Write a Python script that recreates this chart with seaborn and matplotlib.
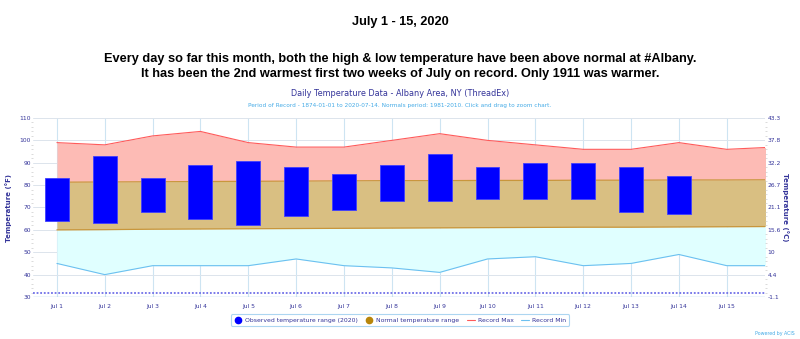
import numpy as np
import pandas as pd
import matplotlib
matplotlib.use("Agg")
import matplotlib.pyplot as plt
from matplotlib import font_manager
from matplotlib.lines import Line2D
import seaborn as sns

# ---- data ----
days = list(range(1, 17))
day_labels = [f"Jul {d}" for d in range(1, 16)]
obs_high = [83, 93, 83, 89, 91, 88, 85, 89, 94, 88, 90, 90, 88, 84]
obs_low = [64, 63, 68, 65, 62, 66, 69, 73, 73, 74, 74, 74, 68, 67]
normal_high = [81.3, 81.4, 81.5, 81.6, 81.7, 81.8, 81.9, 82.0, 82.0, 82.1, 82.1, 82.2, 82.2, 82.3, 82.3, 82.4]
normal_low = [60.0, 60.1, 60.3, 60.4, 60.5, 60.6, 60.7, 60.8, 60.9, 61.0, 61.1, 61.2, 61.2, 61.3, 61.4, 61.5]
record_max = [99, 98, 102, 104, 99, 97, 97, 100, 103, 100, 98, 96, 96, 99, 96, 97]
record_min = [45, 40, 44, 44, 44, 47, 44, 43, 41, 47, 48, 44, 45, 49, 44, 44]
f_ticks = [30, 40, 50, 60, 70, 80, 90, 100, 110]
c_labels = ["-1.1", "4.4", "10", "15.6", "21.1", "26.7", "32.2", "37.8", "43.3"]

title = "July 1 - 15, 2020"
subtitle = ("Every day so far this month, both the high & low temperature have been above normal at #Albany.\n"
            "It has been the 2nd warmest first two weeks of July on record. Only 1911 was warmer.")
chart_title = "Daily Temperature Data - Albany Area, NY (ThreadEx)"
chart_sub = ("Period of Record - 1874-01-01 to 2020-07-14. Normals period: 1981-2010. "
             "Click and drag to zoom chart.")

sns.set_style("white")
names = {f.name for f in font_manager.fontManager.ttflist}
narrow = "Liberation Sans Narrow" if "Liberation Sans Narrow" in names else "Liberation Sans"
plt.rcParams["font.family"] = ["DejaVu Sans"]

df = pd.DataFrame({"day": days, "nh": normal_high, "nl": normal_low,
                   "rmax": record_max, "rmin": record_min})
obs = pd.DataFrame({"day": days[:len(obs_high)], "hi": obs_high, "lo": obs_low})

fig = plt.figure(figsize=(8.0, 3.39), dpi=100)
ax = fig.add_axes([33 / 800, 1 - 297 / 339, 732 / 800, 179 / 339])

TXT = "#333399"
# fills
ax.fill_between(df.day, df.nh, df.rmax, color="#FDBBB5", lw=0, zorder=1)
ax.fill_between(df.day, df.nl, df.nh, color="#D9BF82", lw=0, zorder=1)
ax.fill_between(df.day, df.rmin, df.nl, color="#E0FFFF", lw=0, zorder=1)
sns.lineplot(data=df, x="day", y="nh", ax=ax, color="#C8963C", lw=0.9, zorder=2)
sns.lineplot(data=df, x="day", y="nl", ax=ax, color="#C8963C", lw=0.9, zorder=2)
sns.lineplot(data=df, x="day", y="rmax", ax=ax, color="#FF5A5A", lw=0.8, zorder=3)
sns.lineplot(data=df, x="day", y="rmin", ax=ax, color="#6CC0F0", lw=0.8, zorder=3)

# observed bars
ax.bar(obs.day, obs.hi - obs.lo, bottom=obs.lo, width=0.5, color="#0000FF",
       edgecolor="#3F3FFF", lw=0.6, zorder=4)

# freezing line
ax.axhline(32, color="#6F6FE8", lw=1.3, ls=(0, (1, 1)), zorder=3)
ax.axhline(30, color="#A6CFEA", lw=1.0, zorder=3)

ax.set_xlim(0.5, 15.8)
ax.set_ylim(30, 110)
ax.set_xticks(range(1, 16))
ax.set_xticklabels(day_labels)
ax.set_yticks(f_ticks)
ax.set_yticks(np.arange(30, 111, 2), minor=True)
ax.grid(axis="y", color="#DCE4EC", lw=0.7, zorder=0)
for d in range(1, 16):
    ax.axvline(d, color="#CDE4F2", lw=0.8, zorder=0.5)
for s in ax.spines.values():
    s.set_visible(False)
ax.tick_params(axis="x", length=0, labelsize=4.3, labelcolor=TXT, pad=5)
ax.tick_params(axis="y", which="major", length=0, labelsize=4.3, labelcolor=TXT, pad=1.5)
ax.tick_params(axis="y", which="minor", length=1.5, color="#CCCCCC", width=0.5)
ax.set_xlabel("")
ax.set_ylabel("Temperature (°F)", fontsize=5.0, color=TXT, fontweight="bold")
ax.yaxis.set_label_coords((12 - 33) / 732, 0.5)

ax2 = ax.twinx()
ax2.set_ylim(30, 110)
ax2.set_yticks(f_ticks)
ax2.set_yticklabels(c_labels)
ax2.set_yticks(np.arange(30, 111, 2), minor=True)
for s in ax2.spines.values():
    s.set_visible(False)
ax2.tick_params(axis="y", which="major", length=0, labelsize=4.3, labelcolor=TXT, pad=2)
ax2.tick_params(axis="y", which="minor", length=1.5, color="#CCCCCC", width=0.5)
ax2.set_ylabel("Temperature (°C)", fontsize=5.0, color=TXT, fontweight="bold", rotation=270)
ax2.yaxis.set_label_coords((789 - 33) / 732, 0.5)

# titles
fig.text(0.5, 1 - 22 / 339, title, ha="center", va="center", fontsize=9.2,
         fontweight="bold", family=narrow, color="black")
fig.text(0.5, 1 - 66.5 / 339, subtitle, ha="center", va="center", fontsize=9.2,
         fontweight="bold", family=narrow, linespacing=1.4, color="black")
fig.text(0.5, 1 - 93 / 339, chart_title, ha="center", va="center", fontsize=5.9, color=TXT)
fig.text(0.5, 1 - 106 / 339, chart_sub, ha="center", va="center", fontsize=4.15, color="#44AAE6")
fig.text(795 / 800, 1 - 334 / 339, "Powered by ACIS", ha="right", va="center",
         fontsize=3.4, color="#44AAE6")

handles = [
    Line2D([], [], ls="", marker="o", color="#0000FF", ms=4.5),
    Line2D([], [], ls="", marker="o", color="#B8860B", ms=4.5),
    Line2D([], [], color="#FF5A5A", lw=0.8),
    Line2D([], [], color="#6CC0F0", lw=0.8),
]
labels = ["Observed temperature range (2020)", "Normal temperature range", "Record Max", "Record Min"]
leg = fig.legend(handles, labels, loc="center", bbox_to_anchor=(400 / 800, 1 - 320 / 339),
                 ncol=4, fontsize=4.4, frameon=True, handlelength=1.3, columnspacing=1.2,
                 handletextpad=0.5, borderpad=0.5, fancybox=True)
leg.get_frame().set_edgecolor("#99CCEE")
leg.get_frame().set_linewidth(0.8)
for t in leg.get_texts():
    t.set_color(TXT)

fig.savefig("out.png", dpi=100)
